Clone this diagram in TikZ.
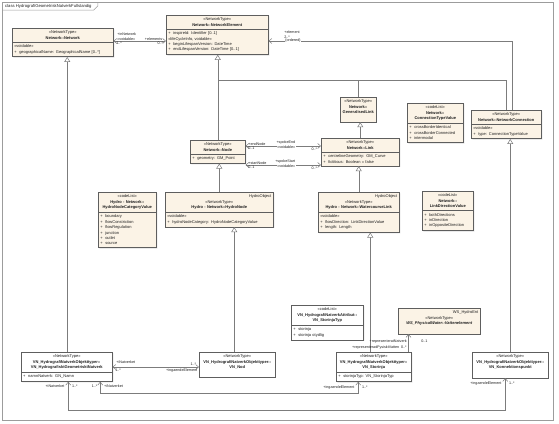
\documentclass[tikz,border=0pt]{standalone}
\usepackage{fontspec}
\setmainfont{Liberation Sans}
\usetikzlibrary{arrows.meta,shapes.multipart,shadows}
\definecolor{classfill}{HTML}{FBF3E6}
\definecolor{classline}{HTML}{5E5E5E}
\definecolor{linkgray}{HTML}{7C7C7C}
\definecolor{framegray}{HTML}{9C9C9C}
\definecolor{textgray}{HTML}{1E1E1E}
\newcommand\umlfont{\fontsize{4}{5.4}\selectfont}
\newcommand\rolefont{\fontsize{3.7}{4.3}\selectfont}
\newcommand\titlefont{\fontsize{4.2}{5}\selectfont}

\begin{document}
\begin{tikzpicture}[
  x=1pt, y=-1pt,
  >={Straight Barb[length=3pt,width=5pt]},
  umlclass/.style={
    rectangle split, rectangle split parts=2,
    draw=classline, fill=classfill, line width=0.5pt,
    anchor=north west, inner xsep=2pt, inner ysep=2.5pt,
    align=left, font=\umlfont, text=textgray,
    drop shadow={shadow xshift=1pt,shadow yshift=-1pt,fill=black!25}
  },
  vnclass/.style={umlclass, fill=white},
  nosplit/.style={rectangle split draw splits=false},
  assoc/.style={draw=linkgray, line width=0.5pt},
  gen/.style={assoc, -{Triangle[open,fill=white,length=5pt,width=6pt]}},
  role/.style={font=\rolefont, text=textgray, inner sep=0.6pt},
  onwire/.style={role, fill=white}
]
  \useasboundingbox (0,0) rectangle (559,423);
  \draw[framegray, line width=0.6pt] (2,2) rectangle (553,420);
  \node[anchor=west, font=\titlefont, inner sep=0pt, text=textgray] (title) at (5,6)
    {class HydrografiGeometriskNatverkFullstandig};
  \draw[framegray, line width=0.5pt] (2,10) -- ([xshift=2pt]title.east |- 0,10)
    -- ([xshift=6pt]title.east |- 0,6) -- ([xshift=6pt]title.east |- 0,2);

  % Network package
  \node[umlclass, text width=97pt, minimum height=34pt] (network) at (12,28)
    {\centering «NetworkType»\\\textbf{Network::Network}\par
     \nodepart{two}«voidable»\\+ \ geographicalName: GeographicalName [0..*]};
  \node[umlclass, text width=98pt, minimum height=45pt] (element) at (166,15)
    {\centering «NetworkType»\\\textbf{Network::NetworkElement}\par
     \nodepart{two}+ \ inspireId: Identifier [0..1]\\«lifeCycleInfo, voidable»\\%
     + \ beginLifespanVersion: DateTime\\+ \ endLifespanVersion: DateTime [0..1]};
  \node[umlclass, nosplit, text width=33pt, inner xsep=1.5pt, minimum height=31pt] (genlink) at (340,97)
    {\centering «NetworkType»\\\textbf{Network::}\\\textbf{GeneralisedLink}\par\nodepart{two}};
  \node[umlclass, text width=51pt, minimum height=30pt] (netnode) at (190,140)
    {\centering «NetworkType»\\\textbf{Network::Node}\par
     \nodepart{two}+ \ geometry: GM\_Point};
  \node[umlclass, text width=74pt, minimum height=33pt] (netlink) at (321,138)
    {\centering «NetworkType»\\\textbf{Network::Link}\par
     \nodepart{two}+ \ centrelineGeometry: GM\_Curve\\+ \ fictitious: Boolean = false};
  \node[umlclass, text width=66pt, minimum height=32pt] (connection) at (471,110)
    {\centering «NetworkType»\\\textbf{Network::NetworkConnection}\par
     \nodepart{two}«voidable»\\+ \ type: ConnectionTypeValue};
  \node[umlclass, text width=52pt, minimum height=42pt] (conntype) at (407,103)
    {\centering «codeList»\\\textbf{Network::}\\\textbf{ConnectionTypeValue}\par
     \nodepart{two}+ \ crossBorderIdentical\\+ \ crossBorderConnected\\+ \ intermodal};
  \node[umlclass, text width=47pt, minimum height=42pt] (linkdir) at (422,191)
    {\centering «codeList»\\\textbf{Network::}\\\textbf{LinkDirectionValue}\par
     \nodepart{two}+ \ bothDirections\\+ \ inDirection\\+ \ inOppositeDirection};

  % Hydro - Network package
  \node[umlclass, text width=104pt, minimum height=45pt] (hydronode) at (165,192)
    {{\raggedleft HydroObject\par}\centering «NetworkType»\\\textbf{Hydro - Network::HydroNode}\par
     \nodepart{two}«voidable»\\+ \ hydroNodeCategory: HydroNodeCategoryValue};
  \node[umlclass, text width=77pt, minimum height=49pt] (waterlink) at (318,192)
    {{\raggedleft HydroObject\par}\centering «NetworkType»\\\textbf{Hydro - Network::WatercourseLink}\par
     \nodepart{two}«voidable»\\+ \ flowDirection: LinkDirectionValue\\+ \ length: Length};
  \node[umlclass, text width=54pt, minimum height=58pt] (nodecat) at (98,192)
    {\centering «codeList»\\\textbf{Hydro - Network::}\\\textbf{HydroNodeCategoryValue}\par
     \nodepart{two}+ \ boundary\\+ \ flowConstriction\\+ \ flowRegulation\\%
     + \ junction\\+ \ outlet\\+ \ source};

  % VN package
  \node[vnclass, text width=68pt, minimum height=37pt] (storinjatyp) at (291,305)
    {\centering «codeList»\\\textbf{VN\_HydrografiNatverkAttribut::}\\\textbf{VN\_StorinjaTyp}\par
     \nodepart{two}+ \ storinja\\+ \ storinja otydlig};
  \node[umlclass, nosplit, text width=78pt, minimum height=29pt] (physwater) at (398,308)
    {{\raggedleft WS\_HydroEnt\par}\centering «NetworkType»\\%
     \textbf{\textit{WS\_PhysicalWater::Vattenelement}}\par\nodepart{two}};
  \node[vnclass, text width=87pt, minimum height=31pt] (geonet) at (21,352)
    {\centering «NetworkType»\\\textbf{VN\_HydrografiNatverkObjekttyper::}\\%
     \textbf{VN\_HydrografisktGeometrisktNatverk}\par
     \nodepart{two}+ \ namnNatverk: GN\_Namn};
  \node[vnclass, nosplit, text width=72pt, minimum height=30pt] (vnnod) at (199,352)
    {\centering «NetworkType»\\\textbf{VN\_HydrografiNatverkObjekttyper::}\\\textbf{VN\_Nod}\par\nodepart{two}};
  \node[vnclass, text width=71pt, minimum height=31pt] (storinja) at (336,352)
    {\centering «NetworkType»\\\textbf{VN\_HydrografiNatverkObjekttyper::}\\\textbf{VN\_Storinja}\par
     \nodepart{two}+ \ storinjaTyp: VN\_StorinjaTyp};
  \node[vnclass, nosplit, text width=72pt, minimum height=30pt] (konpunkt) at (472,352)
    {\centering «NetworkType»\\\textbf{VN\_HydrografiNatverkObjekttyper::}\\%
     \textbf{VN\_Konnektionspunkt}\par\nodepart{two}};

  % generalisations
  \draw[gen] (netnode.north) -- (netnode.north |- element.south);
  \draw[assoc] (genlink.north) |- (netnode.north |- 0,80);
  \draw[assoc] (connection.north) |- (netnode.north |- 0,80);
  \draw[gen] (netlink.north) -- (netlink.north |- genlink.south);
  \draw[gen] (hydronode.north) -- (hydronode.north |- netnode.south);
  \draw[gen] (waterlink.north) -- (waterlink.north |- netlink.south);
  \draw[gen] (konpunkt.north) -- (konpunkt.north |- connection.south);
  \draw[gen] ([xshift=0.5pt]geonet.north) -- ([xshift=0.5pt]geonet.north |- network.south);
  \draw[gen] ([xshift=-3pt]vnnod.north) -- ([xshift=-3pt]vnnod.north |- hydronode.south);
  \draw[gen] ([xshift=-3.5pt]storinja.north) -- ([xshift=-3.5pt]storinja.north |- waterlink.south);

  % associations
  \draw[assoc, <->] (network.east |- 0,41) --
    node[role, pos=0, anchor=south west, xshift=3pt, align=left] {+inNetwork\\«voidable»}
    node[role, pos=0, anchor=north west, xshift=2pt] {1..*}
    node[role, pos=1, anchor=south east, xshift=-3pt] {+elements}
    node[role, pos=1, anchor=north east, xshift=-2pt] {0..*}
    (element.west |- 0,41);
  \draw[assoc, <-] (element.east |- 0,41) -|
    node[role, pos=0, anchor=south west, xshift=15pt, yshift=2pt, align=left] {+element\\2..*}
    node[onwire, pos=0, anchor=west, xshift=16pt] {\{ordered\}}
    ([xshift=6pt]connection.north);
  \draw[assoc, <->] (netnode.east |- 0,146) --
    node[role, pos=0, anchor=south west, xshift=2pt] {+endNode}
    node[role, pos=0, anchor=north west, xshift=2pt] {0..1}
    node[role, pos=1, anchor=south east, xshift=-25pt, yshift=1pt] {+spokeEnd}
    node[onwire, pos=1, anchor=east, xshift=-25pt, yshift=-1pt] {«voidable»}
    node[role, pos=1, anchor=north east, xshift=-3pt, yshift=-1pt] {0..*}
    (netlink.west |- 0,146);
  \draw[assoc, <->] (netnode.east |- 0,165) --
    node[role, pos=0, anchor=south west, xshift=2pt] {+startNode}
    node[role, pos=0, anchor=north west, xshift=2pt] {0..1}
    node[role, pos=1, anchor=south east, xshift=-25pt, yshift=1pt] {+spokeStart}
    node[onwire, pos=1, anchor=east, xshift=-25pt, yshift=-1pt] {«voidable»}
    node[role, pos=1, anchor=north east, xshift=-3pt, yshift=-1pt] {0..*}
    (netlink.west |- 0,165);
  \draw[assoc, ->] ([xshift=-3pt]storinja.north east) --
    node[role, pos=0.6, anchor=east, xshift=-1pt] {+representeratNatverk}
    node[role, pos=0.6, anchor=west, xshift=12pt] {0..1}
    node[role, pos=0.25, anchor=east, xshift=-1pt] {+representeradFysisktVatten\enspace 0..*}
    ([xshift=-3pt]storinja.north east |- physwater.south);
  \draw[assoc, <->] (geonet.east |- 0,367) --
    node[role, pos=0, anchor=south west, xshift=3pt, yshift=3pt] {+iNatverket}
    node[role, pos=0, anchor=north west, xshift=2pt, yshift=-1pt] {1..*}
    node[role, pos=1, anchor=south east, xshift=-2pt, yshift=1pt] {1..*}
    node[role, pos=1, anchor=north east, xshift=-1pt, yshift=-1pt] {+ingaendeElement}
    (vnnod.west |- 0,367);
  \draw[assoc, <->] ([xshift=33.5pt]geonet.south) --
    node[role, pos=0, anchor=north east, xshift=-2pt, yshift=-2pt] {1..*}
    node[role, pos=0, anchor=north west, xshift=3pt, yshift=-2pt] {+iNatverket}
    ++(0,12) -|
    node[role, pos=1, anchor=north east, xshift=-3pt, yshift=-3pt] {+ingaendeElement}
    node[role, pos=1, anchor=north west, xshift=3pt, yshift=-3pt] {1..*}
    ([xshift=-15.5pt]storinja.south);
  \draw[assoc, <->] ([xshift=1.5pt]geonet.south) --
    node[role, pos=0, anchor=north east, xshift=-3pt, yshift=-2pt] {+iNatverket}
    node[role, pos=0, anchor=north west, xshift=3pt, yshift=-2pt] {1..*}
    ++(0,29) -|
    node[role, pos=1, anchor=north east, xshift=-3pt, yshift=-3pt] {+ingaendeElement}
    node[role, pos=1, anchor=north west, xshift=3pt, yshift=-3pt] {1..*}
    ([xshift=-5pt]konpunkt.south);
\end{tikzpicture}
\end{document}
